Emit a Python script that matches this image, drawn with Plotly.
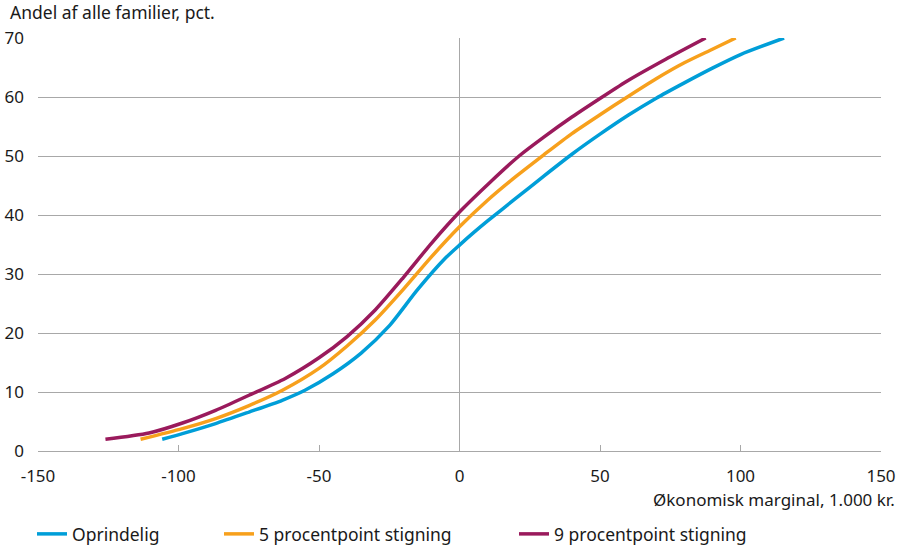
import plotly.graph_objects as go

# Share of families (pct.) by economic margin (1,000 DKK)
orig_x = [-105.8, -98.6, -86.8, -74.9, -63.1, -55, -45, -35, -25, -15, -5, 0, 5, 10, 20, 30, 40, 50, 60, 70, 80, 90, 100, 115.5]
orig_y = [2, 2.95, 4.65, 6.6, 8.6, 10.3, 13.1, 16.6, 21.2, 27.3, 32.7, 34.9, 37.0, 39.0, 42.8, 46.6, 50.3, 53.7, 56.9, 59.8, 62.4, 64.9, 67.2, 70]

p5_x = [-113.5, -98.6, -86.8, -74.9, -63, -50, -40, -30, -20, -10, 0, 10, 20, 30, 40, 50, 60, 70, 80, 90, 98.3]
p5_y = [2, 3.8, 5.5, 7.7, 10.3, 14.0, 17.8, 22.2, 27.4, 32.9, 38, 42.5, 46.5, 50.2, 53.8, 57, 60.1, 63.1, 65.8, 68.1, 70]

p9_x = [-126, -110.5, -98.6, -86.8, -74.9, -62, -50, -40, -30, -20, -10, 0, 11, 21.2, 30, 40, 50.8, 60, 73.4, 87.6]
p9_y = [2, 3.06, 4.75, 6.9, 9.45, 12.3, 15.8, 19.4, 23.9, 29.4, 35.2, 40.5, 45.6, 50, 53.2, 56.6, 60, 62.8, 66.4, 70]

names = ["Oprindelig", "5 procentpoint stigning", "9 procentpoint stigning"]
colors = ["#009ED8", "#F7A01C", "#9A1A5C"]

x_ticks = [-150, -100, -50, 0, 50, 100, 150]
y_ticks = [0, 10, 20, 30, 40, 50, 60, 70]

FONT = "Noto Sans"
FS = 17.5
FS_AX = 17
TXT = "#1a1a1a"
GRID = "#a8a8a8"

fig = go.Figure()
series = [(orig_x, orig_y), (p5_x, p5_y), (p9_x, p9_y)]
legend_ids = ["legend", "legend2", "legend3"]
for (xs, ys), name, col, lg in zip(series, names, colors, legend_ids):
    fig.add_trace(go.Scatter(
        x=xs, y=ys, mode="lines", name=name,
        line=dict(color=col, width=3.5, shape="spline", smoothing=0.7),
        legend=lg, hoverinfo="skip",
    ))

# vertical reference line at zero
fig.add_shape(type="line", xref="x", yref="paper", x0=0, x1=0, y0=0, y1=1,
              line=dict(color=GRID, width=1), layer="below")

legend_common = dict(orientation="h", xref="container", yref="container",
                     yanchor="middle", bgcolor="rgba(0,0,0,0)", borderwidth=0,
                     font=dict(family=FONT, size=FS, color=TXT),
                     itemwidth=30, tracegroupgap=0)
fig.update_layout(
    width=901, height=550,
    margin=dict(l=38, r=20, t=38, b=99, autoexpand=False),
    paper_bgcolor="white", plot_bgcolor="white",
    font=dict(family=FONT, size=FS, color=TXT),
    showlegend=True,
    legend=dict(x=32/901, y=(550-534)/550, **legend_common),
    legend2=dict(x=219/901, y=(550-534)/550, **legend_common),
    legend3=dict(x=514/901, y=(550-534)/550, **legend_common),
    xaxis=dict(range=[-150, 150], tickvals=x_ticks, ticktext=[str(v) for v in x_ticks],
               showgrid=False, zeroline=False, showline=True, linecolor=GRID, linewidth=1,
               ticks="inside", ticklen=6, tickcolor=GRID, ticklabelstandoff=10,
               automargin=False,
               tickfont=dict(family=FONT, size=FS_AX, color=TXT), fixedrange=True),
    yaxis=dict(range=[0, 70], tickvals=y_ticks, ticktext=[str(v) for v in y_ticks],
               showgrid=True, gridcolor=GRID, gridwidth=1, zeroline=False,
               showline=False, ticks="", ticklabelstandoff=13, automargin=False,
               tickfont=dict(family=FONT, size=FS_AX, color=TXT), fixedrange=True),
    annotations=[
        dict(text="Andel af alle familier, pct.", xref="paper", yref="paper",
             x=(8-38)/843, y=1, xanchor="left", yanchor="middle", yshift=26,
             showarrow=False, font=dict(family=FONT, size=FS, color=TXT)),
        dict(text="Økonomisk marginal, 1.000 kr.", xref="paper", yref="paper",
             x=(897-38)/843, y=0, xanchor="right", yanchor="middle", yshift=-48.5,
             showarrow=False, font=dict(family=FONT, size=FS_AX, color=TXT)),
    ],
)

fig.write_html("out.html")
